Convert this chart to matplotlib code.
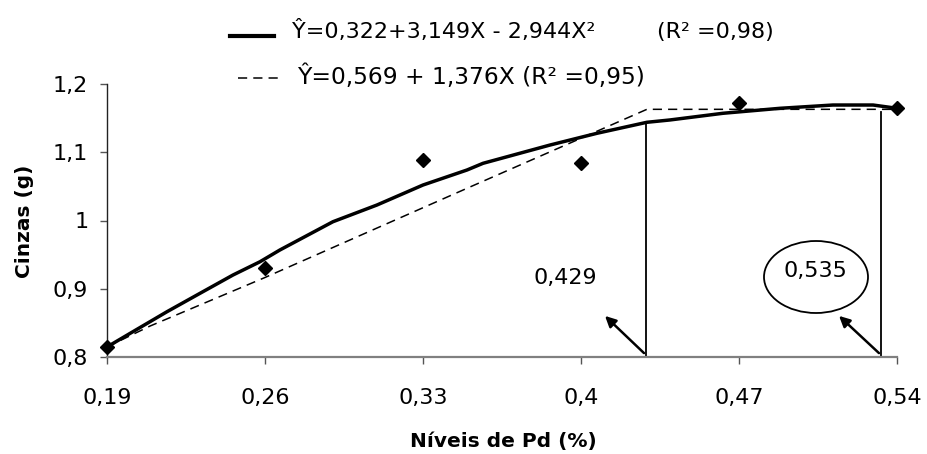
import matplotlib
matplotlib.use("Agg")
import matplotlib.pyplot as plt
from matplotlib.patches import Ellipse, FancyArrowPatch
from matplotlib.lines import Line2D

plt.rcParams['font.family'] = ['DejaVu Sans']

# ---- data ----
x_ticks = [0.19, 0.26, 0.33, 0.40, 0.47, 0.54]
x_tick_labels = ["0,19", "0,26", "0,33", "0,4", "0,47", "0,54"]
y_ticks = [0.8, 0.9, 1.0, 1.1, 1.2]
y_tick_labels = ["0,8", "0,9", "1", "1,1", "1,2"]

obs_x = [0.19, 0.26, 0.33, 0.40, 0.47, 0.54]
obs_y = [0.814, 0.931, 1.089, 1.084, 1.172, 1.165]

quad_x = [0.19, 0.2015, 0.2166, 0.2312, 0.2458, 0.2578, 0.2666, 0.2901,
          0.3096, 0.33, 0.3495, 0.3566, 0.3863, 0.4071, 0.4292, 0.4394,
          0.4629, 0.4882, 0.5116, 0.5294, 0.54]
quad_y = [0.8147, 0.8371, 0.8664, 0.8933, 0.9201, 0.9396, 0.9568, 0.9982,
          1.0227, 1.0520, 1.0740, 1.0838, 1.1106, 1.1278, 1.1439, 1.1473,
          1.1571, 1.1644, 1.1692, 1.1692, 1.1644]

lp_x = [0.19, 0.2091, 0.26, 0.3495, 0.4292, 0.54]
lp_y = [0.8147, 0.8454, 0.9165, 1.0472, 1.1629, 1.1629]

vline_x = [0.429, 0.533]
vline_top = [1.143, 1.159]
vline_labels = ["0,429", "0,535"]

legend1_eq = "Ŷ=0,322+3,149X - 2,944X²"
legend1_r2 = "(R² =0,98)"
legend2 = "Ŷ=0,569 + 1,376X (R² =0,95)"

xlabel = "Níveis de Pd (%)"
ylabel = "Cinzas (g)"

# ---- figure ----
W, H = 927, 454
fig = plt.figure(figsize=(W / 100, H / 100), dpi=100)


def fx(px):
    return px / W


def fy(py):
    return 1 - py / H


ax = fig.add_axes([fx(107), fy(357), fx(897) - fx(107), fy(84) - fy(357)])
ax.set_xlim(0.19, 0.54)
ax.set_ylim(0.8, 1.2)

ax.plot(quad_x, quad_y, color='black', lw=2.5, solid_capstyle='round',
        solid_joinstyle='round', clip_on=False, zorder=3)
ax.plot(lp_x, lp_y, color='black', lw=1.1, dashes=(6, 4), clip_on=False, zorder=3)
ax.plot(obs_x, obs_y, linestyle='none', marker='D', markersize=7.5,
        color='black', clip_on=False, zorder=4)

for vx, vt in zip(vline_x, vline_top):
    ax.plot([vx, vx], [0.8, vt], color='black', lw=1.3, clip_on=False, zorder=2)

for sp in ['top', 'right']:
    ax.spines[sp].set_visible(False)
ax.spines['left'].set_color('#222222')
ax.spines['bottom'].set_color('#808080')
ax.spines['left'].set_linewidth(1.0)
ax.spines['bottom'].set_linewidth(1.6)

ax.set_xticks(x_ticks)
ax.set_xticklabels(x_tick_labels)
ax.set_yticks(y_ticks)
ax.set_yticklabels(y_tick_labels)
ax.tick_params(axis='both', direction='out', length=5, width=1,
               color='#555555', labelsize=16)
ax.tick_params(axis='x', pad=17)
ax.tick_params(axis='y', pad=8.5)

ax.set_xlabel(xlabel, fontsize=14.5, fontweight='bold')
ax.xaxis.label.set_va('center')
ax.xaxis.set_label_coords((503 - 107) / 790, (357 - 441) / 273)
ax.set_ylabel(ylabel, fontsize=14.5, fontweight='bold')
ax.yaxis.label.set_va('center')
ax.yaxis.set_label_coords((24 - 107) / 790, (357 - 221) / 273)

# annotations (in pixel coordinates of the figure)
fig.text(fx(597), fy(278.5), vline_labels[0], fontsize=16, ha='right', va='center')
fig.text(fx(815), fy(271), vline_labels[1], fontsize=16, ha='center', va='center')
ell = Ellipse((fx(816), fy(277)), fx(104), 72 / H, transform=fig.transFigure,
              fill=False, edgecolor='black', lw=1.3)
fig.patches.append(ell)

for tail, tip in [((646, 355), (603, 314)), ((881, 355), (837, 314))]:
    arr = FancyArrowPatch((fx(tail[0]), fy(tail[1])), (fx(tip[0]), fy(tip[1])),
                          transform=fig.transFigure, arrowstyle='-|>',
                          mutation_scale=16, color='black', lw=1.8)
    fig.patches.append(arr)

# legend drawn manually
fig.add_artist(Line2D([fx(230), fx(274)], [fy(36), fy(36)], color='black', lw=3,
                      transform=fig.transFigure))
fig.add_artist(Line2D([fx(238), fx(282)], [fy(78), fy(78)], color='black', lw=1.1,
                      dashes=(6, 4), transform=fig.transFigure))

fig.text(fx(292), fy(38), legend1_eq, fontsize=16, ha='left', va='baseline')
fig.text(fx(774), fy(38), legend1_r2, fontsize=16, ha='right', va='baseline')
fig.text(fx(297), fy(84), legend2, fontsize=16.8, ha='left', va='baseline')

fig.savefig("out.png", dpi=100)
